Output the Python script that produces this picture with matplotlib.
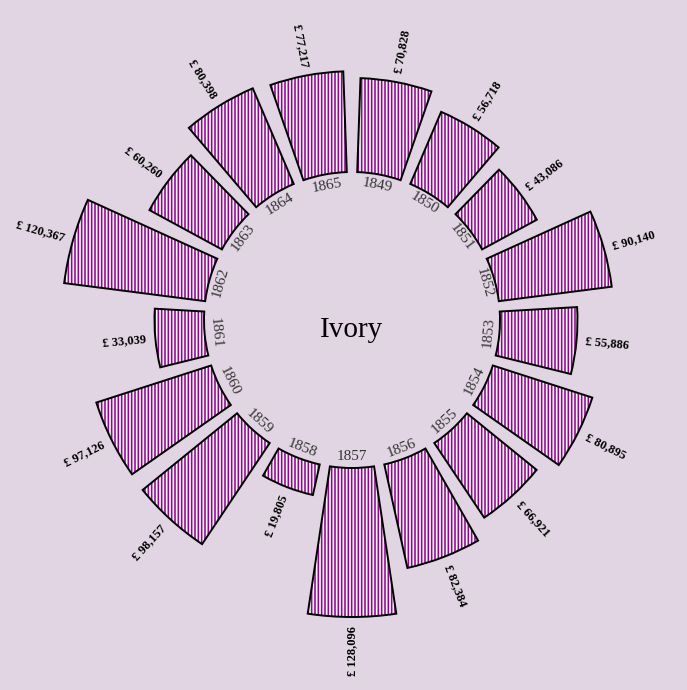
import numpy as np
import matplotlib
matplotlib.use("Agg")
import matplotlib.pyplot as plt

# ---- data ----
years = ["1849", "1850", "1851", "1852", "1853", "1854", "1855", "1856", "1857",
         "1858", "1859", "1860", "1861", "1862", "1863", "1864", "1865"]
values = [70828, 56718, 43086, 90140, 55886, 80895, 66921, 82384, 128096,
          19805, 98157, 97126, 33039, 120367, 60260, 80398, 77217]
title = "Ivory"

# ---- style ----
BG = "#e1d5e3"
PURPLE = "#8b0a8b"
STRIPE_BG = "#f8f3f8"
plt.rcParams["hatch.linewidth"] = 1.15
W, H, DPI = 687, 690, 100
CX, CY = 352, 320          # centre in px (from top-left)
RAX = 320                  # axes radius in px
R0, R1 = 148, 297          # inner / outer radius in px

fig = plt.figure(figsize=(W / DPI, H / DPI), dpi=DPI, facecolor=BG)
ax = fig.add_axes([(CX - RAX) / W, (H - CY - RAX) / H, 2 * RAX / W, 2 * RAX / H],
                  projection="polar")
ax.set_theta_zero_location("N")
ax.set_theta_direction(-1)
ax.set_ylim(0, RAX)
ax.set_axis_off()
ax.patch.set_alpha(0)

n = len(values)
vals = np.array(values, dtype=float)
vmax = vals.max()
# radial (area-true) scale like d3.scaleRadial
outer = np.sqrt(R0 ** 2 + (R1 ** 2 - R0 ** 2) * vals / vmax)
sector = 2 * np.pi / n
theta = (np.arange(n) + 0.5) * sector
width = sector * 0.81

ax.bar(theta, outer - R0, width=width, bottom=R0, facecolor=STRIPE_BG,
       edgecolor=PURPLE, linewidth=0, hatch="|||||", zorder=2)
ax.bar(theta, outer - R0, width=width, bottom=R0, fill=False,
       edgecolor="black", linewidth=1.4, zorder=3)

serif = ["Liberation Serif", "DejaVu Serif"]
for th, yr, v, ro in zip(theta, years, values, outer):
    deg = np.degrees(th)
    # year label (tangential)
    rot = 180 - deg if 90 < deg < 270 else -deg
    ax.text(th, 137, yr, rotation=rot, rotation_mode="anchor", ha="center",
            va="center", fontsize=11, family=serif, color="#333333")
    # value label (radial)
    lab = "£ {:,}".format(v)
    if deg < 180:
        vr, ha = 90 - deg, "left"
    else:
        vr, ha = 270 - deg, "right"
    ax.text(th, ro + 9, lab, rotation=vr, rotation_mode="anchor", ha=ha,
            va="center", fontsize=9, fontweight="bold", family=serif, color="black")

ax.annotate(title, xy=(0, 0), xytext=(0, -12.5), textcoords="offset points",
            ha="center", va="baseline", fontsize=21, family=serif, color="black")

fig.savefig("out.png", dpi=DPI, facecolor=BG)
